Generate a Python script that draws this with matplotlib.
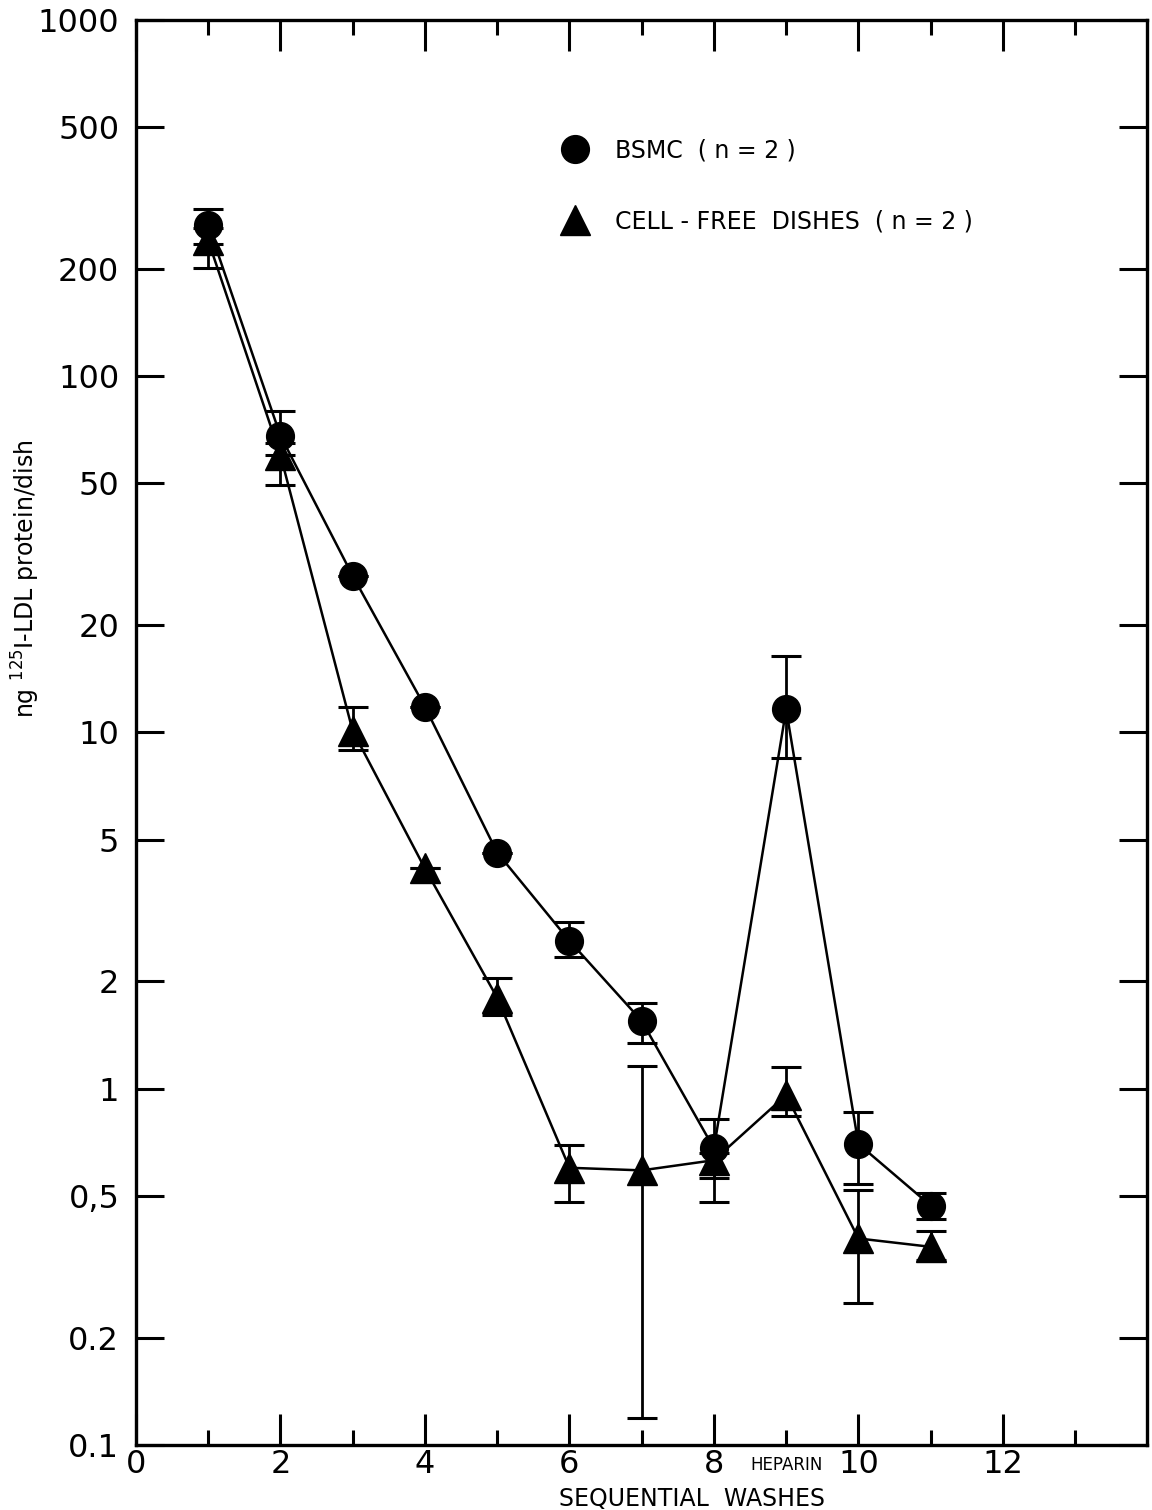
import matplotlib
matplotlib.use('Agg')
import matplotlib.pyplot as plt
from matplotlib.ticker import FixedLocator, FixedFormatter, NullFormatter
from matplotlib.lines import Line2D
import numpy as np

# Dados (lavagens sequenciais)
washes = [1, 2, 3, 4, 5, 6, 7, 8, 9, 10, 11]

bsmc = [265, 68, 27.5, 11.8, 4.6, 2.6, 1.55, 0.68, 11.6, 0.70, 0.47]
bsmc_lo = [235, 60, 27.5, 11.8, 4.6, 2.34, 1.34, 0.56, 8.5, 0.54, 0.43]
bsmc_hi = [295, 80, 27.5, 11.8, 4.6, 2.93, 1.74, 0.82, 16.4, 0.86, 0.51]

cellfree = [240, 60, 10.1, 4.15, 1.80, 0.60, 0.59, 0.63, 0.96, 0.38, 0.36]
cellfree_lo = [201, 49.6, 8.9, 4.15, 1.61, 0.48, 0.119, 0.48, 0.84, 0.25, 0.33]
cellfree_hi = [260, 65, 11.8, 4.15, 2.05, 0.695, 1.16, 0.66, 1.15, 0.52, 0.40]

y_ticks = [1000, 500, 200, 100, 50, 20, 10, 5, 2, 1, 0.5, 0.2, 0.1]
y_ticklabels = ["1000", "500", "200", "100", "50", "20", "10", "5", "2", "1", "0,5", "0.2", "0.1"]
x_ticks = [0, 2, 4, 6, 8, 10, 12]

fig = plt.figure(figsize=(11.52, 15.10), dpi=100)
ax = fig.add_axes([0.118, 0.043, 0.878, 0.944])

def bars(vals, lo, hi):
    vals = np.array(vals)
    return [vals - np.array(lo), np.array(hi) - vals]

# BSMC (circulos)
ax.errorbar(washes, bsmc, yerr=bars(bsmc, bsmc_lo, bsmc_hi), fmt='none',
            ecolor='black', elinewidth=2, capsize=11, capthick=2.2)
ax.plot(washes, bsmc, color='black', lw=1.8, marker='o', markersize=20)

# placas sem celulas (triangulos)
ax.errorbar(washes, cellfree, yerr=bars(cellfree, cellfree_lo, cellfree_hi), fmt='none',
            ecolor='black', elinewidth=2, capsize=11, capthick=2.2)
ax.plot(washes, cellfree, color='black', lw=1.8, marker='^', markersize=21)

ax.set_yscale('log')
ax.set_ylim(0.1, 1000)
ax.set_xlim(0, 14)

ax.yaxis.set_major_locator(FixedLocator(y_ticks))
ax.yaxis.set_major_formatter(FixedFormatter(y_ticklabels))
ax.yaxis.set_minor_locator(FixedLocator([]))
ax.yaxis.set_minor_formatter(NullFormatter())
ax.xaxis.set_major_locator(FixedLocator(x_ticks))
ax.xaxis.set_minor_locator(FixedLocator([1, 3, 5, 7, 9, 11, 13]))

ax.tick_params(axis='both', which='both', direction='in', top=True, right=True,
               width=2.2, colors='black')
ax.tick_params(axis='x', which='major', length=22, labelsize=23, pad=3)
ax.tick_params(axis='x', which='minor', length=11)
ax.tick_params(axis='y', which='major', length=20, labelsize=23, pad=12)

for s in ax.spines.values():
    s.set_linewidth(2.4)

ax.text(9, -0.008, "HEPARIN", transform=ax.get_xaxis_transform(),
        ha='center', va='top', fontsize=12)
ax.text(7.7, -0.0295, "SEQUENTIAL  WASHES", transform=ax.get_xaxis_transform(),
        ha='center', va='top', fontsize=17)

ax.set_ylabel("ng $^{125}$I-LDL protein/dish", fontsize=17)
ax.yaxis.set_label_coords(-0.093, 0.608)

# legenda so com os marcadores
handles = [Line2D([], [], color='black', ls='none', marker='o', markersize=20),
           Line2D([], [], color='black', ls='none', marker='^', markersize=21)]
labels = ['BSMC  ( n = 2 )', 'CELL - FREE  DISHES  ( n = 2 )']
ax.legend(handles, labels, loc='upper left', bbox_to_anchor=(0.408, 0.925), frameon=False,
          fontsize=17, handlelength=1.2, handletextpad=1.1, labelspacing=2.0,
          borderpad=0)

fig.savefig("out.png", dpi=100)
plt.close()
